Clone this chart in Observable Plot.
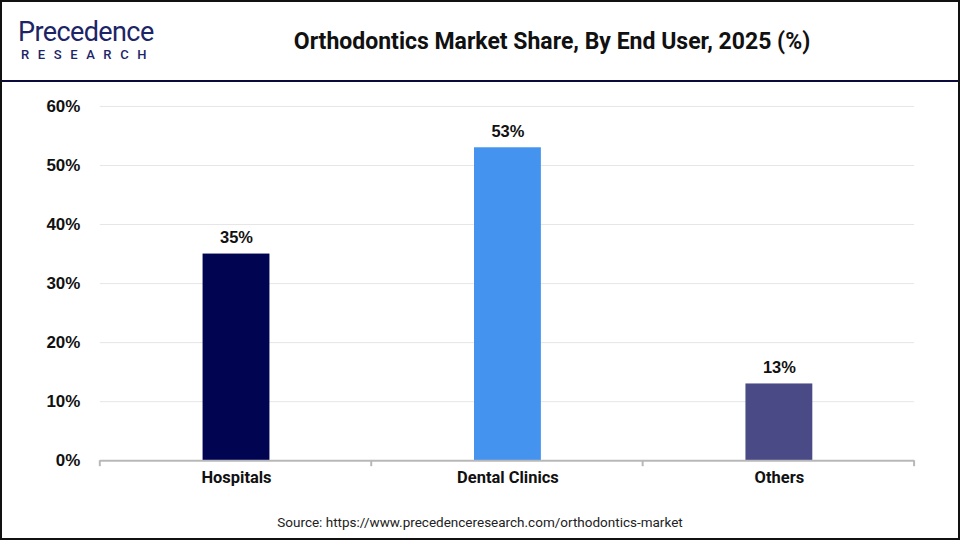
<!DOCTYPE html>
<html><head><meta charset="utf-8">
<script src="https://cdn.jsdelivr.net/npm/d3@7"></script>
<script src="https://cdn.jsdelivr.net/npm/@observablehq/plot@0.6"></script>
<style>
html,body{margin:0;padding:0;background:#fff;}
#frame{position:relative;width:960px;height:540px;box-sizing:border-box;border:2px solid #111;overflow:hidden;background:#fff;}
#header{position:absolute;left:0;top:0;width:956px;height:78px;border-bottom:2px solid #0b0b3b;}
#logo1{position:absolute;left:16px;top:16px;font-family:Roboto,sans-serif;font-size:27px;color:#1c2566;letter-spacing:-0.6px;line-height:28px;}
#logo2{position:absolute;left:19px;top:45px;font-family:Roboto,sans-serif;font-size:13px;color:#1c2566;letter-spacing:8.6px;font-weight:500;}
#title{position:absolute;left:160px;width:780px;top:26px;text-align:center;font-family:Roboto,sans-serif;font-weight:700;font-size:23px;color:#111;}
#chart{position:absolute;left:-2px;top:80px;}
#source{position:absolute;left:0;width:956px;top:512px;text-align:center;font-family:Roboto,sans-serif;font-size:13.5px;color:#222;}
</style></head>
<body>
<div id="frame">
  <div id="header">
    <div id="logo1">Precedence</div>
    <div id="logo2">RESEARCH</div>
    <div id="title">Orthodontics Market Share, By End User, 2025 (%)</div>
  </div>
  <div id="chart"></div>
  <div id="source">Source: https://www.precedenceresearch.com/orthodontics-market</div>
</div>
<script>
const categories = ["Hospitals", "Dental Clinics", "Others"];
const values = [35, 53, 13];
const colors = ["#010450", "#4493ef", "#4a4a87"];
const yTicks = [0, 10, 20, 30, 40, 50, 60];

const data = categories.map((c, i) => ({category: c, value: values[i], color: colors[i]}));

const plot = Plot.plot({
  width: 960,
  height: 412,
  marginTop: 24,
  marginBottom: 33,
  marginLeft: 100,
  marginRight: 44,
  x: {domain: categories, paddingInner: 0.754, paddingOuter: 0.377, label: null},
  y: {domain: [0, 60], ticks: yTicks, label: null, tickFormat: d => d + "%"},
  style: {background: "transparent"},
  marks: [
    Plot.gridY(yTicks.filter(d => d > 0), {stroke: "#e6e6e6", strokeOpacity: 1, strokeWidth: 1}),
    Plot.rectY(data, {x: "category", y: "value", fill: "color"}),
    Plot.ruleY([0], {stroke: "#b8b8b8", strokeWidth: 2}),
    Plot.text(data, {x: "category", y: "value", text: d => d.value + "%", dy: -16,
      fontFamily: "Liberation Sans, Arial, sans-serif", fontWeight: 700, fontSize: 16.5, fill: "#111"}),
    Plot.axisY({ticks: yTicks, tickSize: 0, tickPadding: 20, tickFormat: d => d + "%",
      fontFamily: "Liberation Sans, Arial, sans-serif", fontWeight: 700, fontSize: 17, fill: "#111"}),
    Plot.axisX({tickSize: 0, tickPadding: 11, fontFamily: "Roboto, sans-serif", fontWeight: 700, fontSize: 16.5, fill: "#111"})
  ]
});
document.getElementById("chart").appendChild(plot);

// category boundary ticks on the x axis line
const xs = plot.scale("x");
const [r0, r1] = xs.range;
const step = (r1 - r0) / categories.length;
const y0 = plot.scale("y").apply(0);
const svg = d3.select(plot);
svg.append("g").selectAll("line").data(d3.range(categories.length + 1)).join("line")
  .attr("x1", i => r0 + i * step).attr("x2", i => r0 + i * step)
  .attr("y1", y0).attr("y2", y0 + 6)
  .attr("stroke", "#b8b8b8").attr("stroke-width", 2);
</script>
</body></html>
